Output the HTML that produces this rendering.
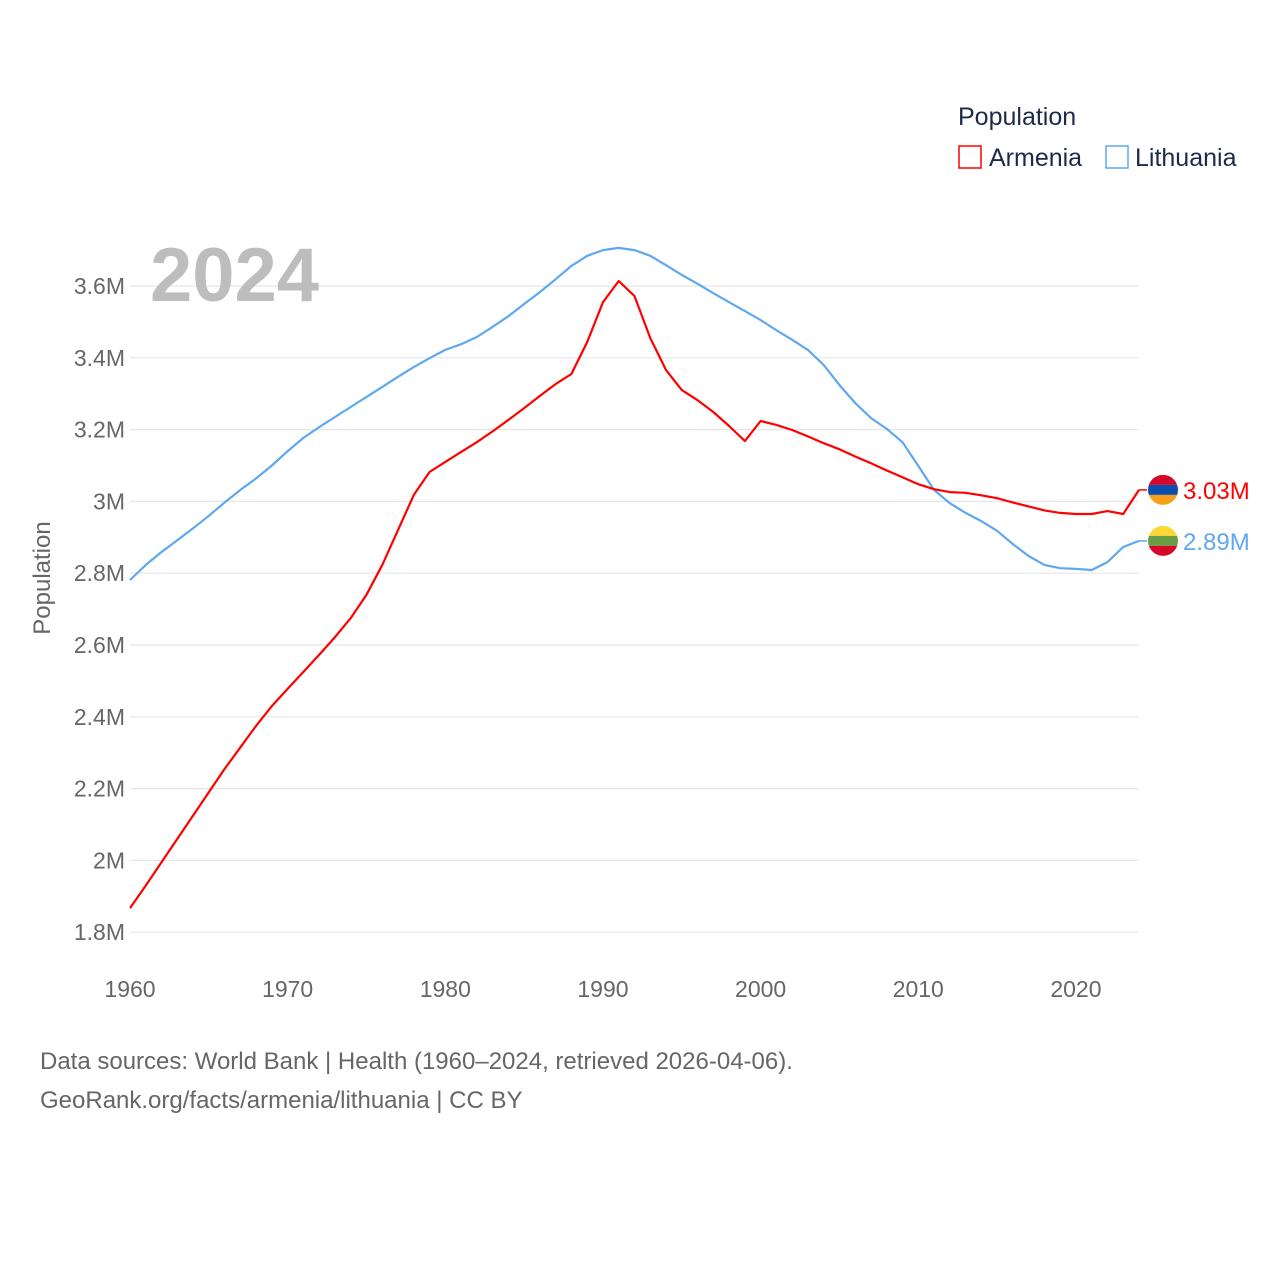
<!DOCTYPE html>
<html><head><meta charset="utf-8"><style>
html,body{margin:0;padding:0;background:#fff;}
svg{display:block;font-family:"Liberation Sans",sans-serif;}
</style></head><body>
<svg id="chart" width="1280" height="1280" viewBox="0 0 1280 1280" xmlns="http://www.w3.org/2000/svg">
<rect width="1280" height="1280" fill="#fff"/>
<g id="grid"></g>
<g id="yticks"></g>
<g id="xticks"></g>
<text x="150" y="301" font-size="76" font-weight="bold" fill="#bdbdbd">2024</text>
<text transform="translate(50,578) rotate(-90)" text-anchor="middle" font-size="24" fill="#666">Population</text>
<g id="series"></g>
<g>
<text x="958" y="125" font-size="25" fill="#1c2b4a">Population</text>
<g>
<rect x="959" y="146" width="22" height="22" fill="none" stroke="#ff0000" stroke-width="1.5"/>
<text x="989" y="166" font-size="25" fill="#1c2b4a">Armenia</text></g>
<g>
<rect x="1106" y="146" width="22" height="22" fill="none" stroke="#5ea8ee" stroke-width="1.5"/>
<text x="1135" y="166" font-size="25" fill="#1c2b4a">Lithuania</text></g>
</g>
<text x="40" y="1069" font-size="24" fill="#666">Data sources: World Bank | Health (1960–2024, retrieved 2026-04-06).</text>
<text x="40" y="1108" font-size="24" fill="#666">GeoRank.org/facts/armenia/lithuania | CC BY</text>
</svg>
<script>
const years = [];
for (let y = 1960; y <= 2024; y++) years.push(y);
const armenia = [1.867,1.93,1.995,2.06,2.125,2.19,2.255,2.315,2.375,2.43,2.478,2.525,2.573,2.622,2.675,2.74,2.823,2.92,3.018,3.082,3.11,3.138,3.165,3.195,3.227,3.26,3.294,3.327,3.355,3.444,3.555,3.614,3.572,3.455,3.366,3.31,3.282,3.249,3.21,3.168,3.224,3.213,3.199,3.181,3.162,3.145,3.125,3.106,3.086,3.067,3.048,3.034,3.026,3.024,3.017,3.009,2.997,2.986,2.975,2.968,2.965,2.965,2.973,2.965,3.032];
const lithuania = [2.781,2.823,2.859,2.892,2.925,2.960,2.997,3.032,3.064,3.100,3.140,3.177,3.207,3.235,3.263,3.291,3.319,3.347,3.374,3.399,3.422,3.438,3.458,3.486,3.516,3.550,3.583,3.619,3.656,3.684,3.700,3.706,3.700,3.684,3.658,3.631,3.606,3.580,3.555,3.530,3.505,3.477,3.450,3.422,3.380,3.324,3.274,3.232,3.202,3.165,3.099,3.032,2.995,2.968,2.945,2.918,2.881,2.848,2.823,2.814,2.812,2.809,2.831,2.873,2.890];
const yTicks = [1.8,2.0,2.2,2.4,2.6,2.8,3.0,3.2,3.4,3.6];
const yTickLabels = ["1.8M","2M","2.2M","2.4M","2.6M","2.8M","3M","3.2M","3.4M","3.6M"];
const xTicks = [1960,1970,1980,1990,2000,2010,2020];

const NS = "http://www.w3.org/2000/svg";
const X = yr => 130 + (yr - 1960) * (1009 / 64);
const Y = v => 286 + (3.6 - v) * 359;
function mk(tag, attrs, parent){const e=document.createElementNS(NS,tag);for(const k in attrs)e.setAttribute(k,attrs[k]);parent.appendChild(e);return e;}
const grid=document.getElementById('grid'), yt=document.getElementById('yticks'), xt=document.getElementById('xticks'), ser=document.getElementById('series');
yTicks.forEach((v,i)=>{
  const l=mk('line',{x1:130,x2:1138,y1:Y(v),y2:Y(v),stroke:'#e6e6e6','stroke-width':1.2},grid);
  
  
  const t=mk('text',{x:125,y:Y(v)+8,'text-anchor':'end','font-size':23,fill:'#666'},yt);
  t.textContent=yTickLabels[i];
  
  
});
xTicks.forEach(yr=>{
  const t=mk('text',{x:X(yr),y:997,'text-anchor':'middle','font-size':23,fill:'#666'},xt);
  t.textContent=yr;
  
  
});
function drawSeries(vals,color,name,flag,label){
  const pts=vals.map((v,i)=>X(years[i]).toFixed(1)+','+Y(v).toFixed(1)).join(' ');
  const p=mk('polyline',{points:pts,fill:'none',stroke:color,'stroke-width':2.2,'stroke-linejoin':'round'},ser);
  
  
  const last=vals[vals.length-1], ly=Y(last), lx=X(years[years.length-1]);
  mk('line',{x1:lx,x2:lx+8,y1:ly,y2:ly,stroke:color,'stroke-width':1.5},ser);
  const g=mk('g',{},ser);
  
  
  const cid='clip-'+name;
  const cp=mk('clipPath',{id:cid},g); mk('circle',{cx:1163,cy:ly,r:15},cp);
  flag.forEach((c,i)=>mk('rect',{x:1148,y:ly-15+i*10,width:30,height:10,fill:c,'clip-path':'url(#'+cid+')'},g));
  const t=mk('text',{x:1183,y:ly+9,'font-size':24,fill:color},ser);
  t.textContent=label;
  
  
}
drawSeries(lithuania,'#5ea8ee','lithuania',['#fdd835','#6a9e45','#d8062a'],(lithuania[lithuania.length-1]).toFixed(2)+'M');
drawSeries(armenia,'#ff0000','armenia',['#d8062a','#0a4fb0','#f7a01a'],(armenia[armenia.length-1]).toFixed(2)+'M');
</script>
</body></html>
